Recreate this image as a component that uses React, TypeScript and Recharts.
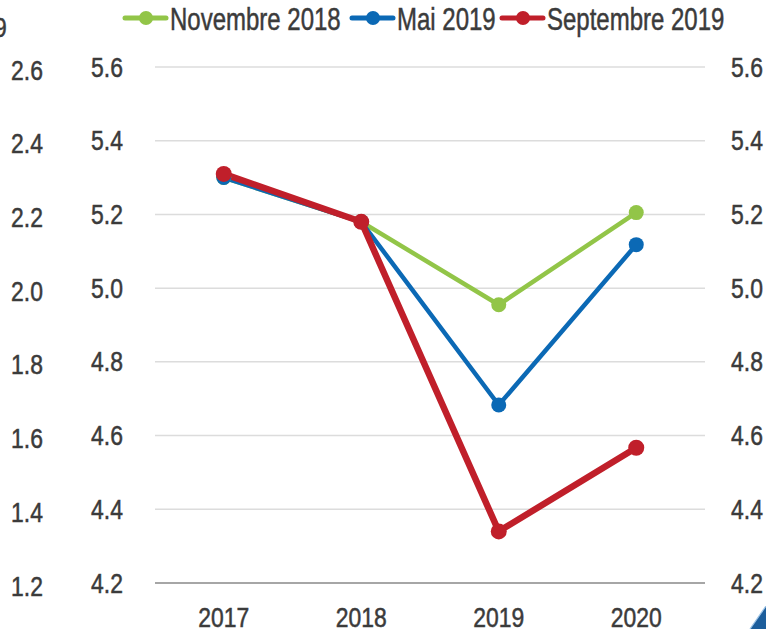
import { LineChart, Line, XAxis, YAxis, CartesianGrid, Legend } from 'recharts';

const years = ['2017', '2018', '2019', '2020'];
const nov2018 = [5.3, 5.18, 4.955, 5.205];
const mai2019 = [5.3, 5.18, 4.683, 5.118];
const sept2019 = [5.31, 5.18, 4.34, 4.567];

const seriesNames = ['Novembre 2018', 'Mai 2019', 'Septembre 2019'];
const mainTicks = [4.2, 4.4, 4.6, 4.8, 5.0, 5.2, 5.4, 5.6];
const outerTicks = [1.2, 1.4, 1.6, 1.8, 2.0, 2.2, 2.4, 2.6];
const bandEdges = [0, 1, 2, 3, 4];

const FONT = '"Liberation Sans", Arial, sans-serif';
const GREEN = '#92c548';
const BLUE = '#0b69b5';
const RED = '#c01f2a';
const TEXT = '#3b3b3b';
const SQUEEZE = 0.85;

const data = years.map((y, i) => ({
  year: y,
  nov: nov2018[i],
  mai: mai2019[i],
  sept: sept2019[i],
}));

const fmt = (v: number) => v.toFixed(1);

// narrow text: Arial squeezed horizontally, like the condensed font of the original
function NarrowTick(props: any) {
  const { x, y, payload, textAnchor, tickFormatter, dyOffset = 0, baseline = '0.355em' } = props;
  const label = tickFormatter ? tickFormatter(payload.value) : payload.value;
  return (
    <g transform={`translate(${x},${y + dyOffset})`}>
      <text
        transform={`scale(${SQUEEZE},1)`}
        textAnchor={textAnchor}
        dy={baseline}
        fontSize={27}
        fill={TEXT}
        stroke={TEXT}
        strokeWidth={0.5}
        fontFamily={FONT}
      >
        {label}
      </text>
    </g>
  );
}

function EdgeTick(props: any) {
  const { x, y } = props;
  return <line x1={x} x2={x} y1={y} y2={y - 7} stroke="#a6a6a6" strokeWidth={2} />;
}

const legendX = [125, 352, 502];

function LegendContent(props: any) {
  const items = [...(props.payload || [])].sort(
    (a: any, b: any) => seriesNames.indexOf(a.value) - seriesNames.indexOf(b.value)
  );
  return (
    <svg width={766} height={62} style={{ display: 'block' }}>
      {items.map((it: any, i: number) => {
        const x0 = legendX[i];
        return (
          <g key={it.value}>
            <line x1={x0} x2={x0 + 41} y1={18} y2={18} stroke={it.color} strokeWidth={5} strokeLinecap="round" />
            <circle cx={x0 + 21} cy={18} r={7} fill={it.color} />
            <g transform={`translate(${x0 + 45},18)`}>
              <text
                transform="scale(0.75,1)"
                dy="0.36em"
                fontSize={32}
                fill={TEXT}
                stroke={TEXT}
                strokeWidth={0.5}
                fontFamily={FONT}
              >
                {it.value}
              </text>
            </g>
          </g>
        );
      })}
    </svg>
  );
}

export default function App() {
  return (
    <div style={{ position: 'absolute', left: 0, top: 0, width: 766, height: 629, background: '#fff', overflow: 'hidden', fontFamily: FONT }}>
      <svg style={{ position: 'absolute', left: 0, top: 0 }} width={40} height={40}>
        <g transform="translate(-6,27)">
          <text transform={`scale(${SQUEEZE},1)`} dy="0.355em" fontSize={27} fill={TEXT} stroke={TEXT} strokeWidth={0.5} fontFamily={FONT}>9</text>
        </g>
      </svg>
      <LineChart width={766} height={629} data={data} margin={{ top: 5, right: 0, bottom: 0, left: 0 }}>
        <CartesianGrid yAxisId="main" xAxisId="cat" vertical={false} stroke="#dcdcdc" strokeWidth={1.5} />
        <Legend verticalAlign="top" align="left" wrapperStyle={{ left: 0, top: 0 }} content={<LegendContent />} />
        <XAxis
          xAxisId="edges"
          type="number"
          domain={[0, 4]}
          ticks={bandEdges}
          allowDataOverflow
          height={0}
          axisLine={false}
          tickLine={false}
          tickSize={0}
          tickMargin={0}
          tick={<EdgeTick />}
        />
        <XAxis
          xAxisId="cat"
          dataKey="year"
          scale="band"
          height={46}
          axisLine={{ stroke: '#a6a6a6', strokeWidth: 2 }}
          tickLine={false}
          tickSize={0}
          tickMargin={25}
          tick={<NarrowTick baseline="0.71em" />}
        />
        <YAxis
          yAxisId="main"
          domain={[4.2, 5.6]}
          ticks={mainTicks}
          allowDataOverflow
          width={85}
          axisLine={false}
          tickLine={false}
          tickSize={0}
          tickMargin={32}
          tickFormatter={fmt}
          tick={<NarrowTick />}
        />
        <YAxis
          yAxisId="outer"
          domain={[1.2, 2.6]}
          ticks={outerTicks}
          allowDataOverflow
          width={70}
          axisLine={false}
          tickLine={false}
          tickSize={0}
          tickMargin={27}
          tickFormatter={fmt}
          tick={<NarrowTick dyOffset={3} />}
        />
        <YAxis
          yAxisId="right"
          orientation="right"
          domain={[4.2, 5.6]}
          ticks={mainTicks}
          allowDataOverflow
          width={61}
          axisLine={false}
          tickLine={false}
          tickSize={0}
          tickMargin={26}
          tickFormatter={fmt}
          tick={<NarrowTick />}
        />
        <Line
          xAxisId="cat"
          yAxisId="main"
          dataKey="nov"
          name={seriesNames[0]}
          stroke={GREEN}
          strokeWidth={4.5}
          dot={{ r: 7.5, fill: GREEN, stroke: GREEN, strokeWidth: 0 }}
          isAnimationActive={false}
        />
        <Line
          xAxisId="cat"
          yAxisId="main"
          dataKey="mai"
          name={seriesNames[1]}
          stroke={BLUE}
          strokeWidth={4.5}
          dot={{ r: 7.5, fill: BLUE, stroke: BLUE, strokeWidth: 0 }}
          isAnimationActive={false}
        />
        <Line
          xAxisId="cat"
          yAxisId="main"
          dataKey="sept"
          name={seriesNames[2]}
          stroke={RED}
          strokeWidth={6.5}
          dot={{ r: 8, fill: RED, stroke: RED, strokeWidth: 0 }}
          isAnimationActive={false}
        />
      </LineChart>
      <svg style={{ position: 'absolute', left: 749, top: 606 }} width={17} height={23}>
        <polygon points="17,0 17,23 1,23" fill="#1d5e9c" />
        <line x1={17} y1={0} x2={1} y2={23} stroke="#9cc3e6" strokeWidth={1.2} />
      </svg>
    </div>
  );
}
